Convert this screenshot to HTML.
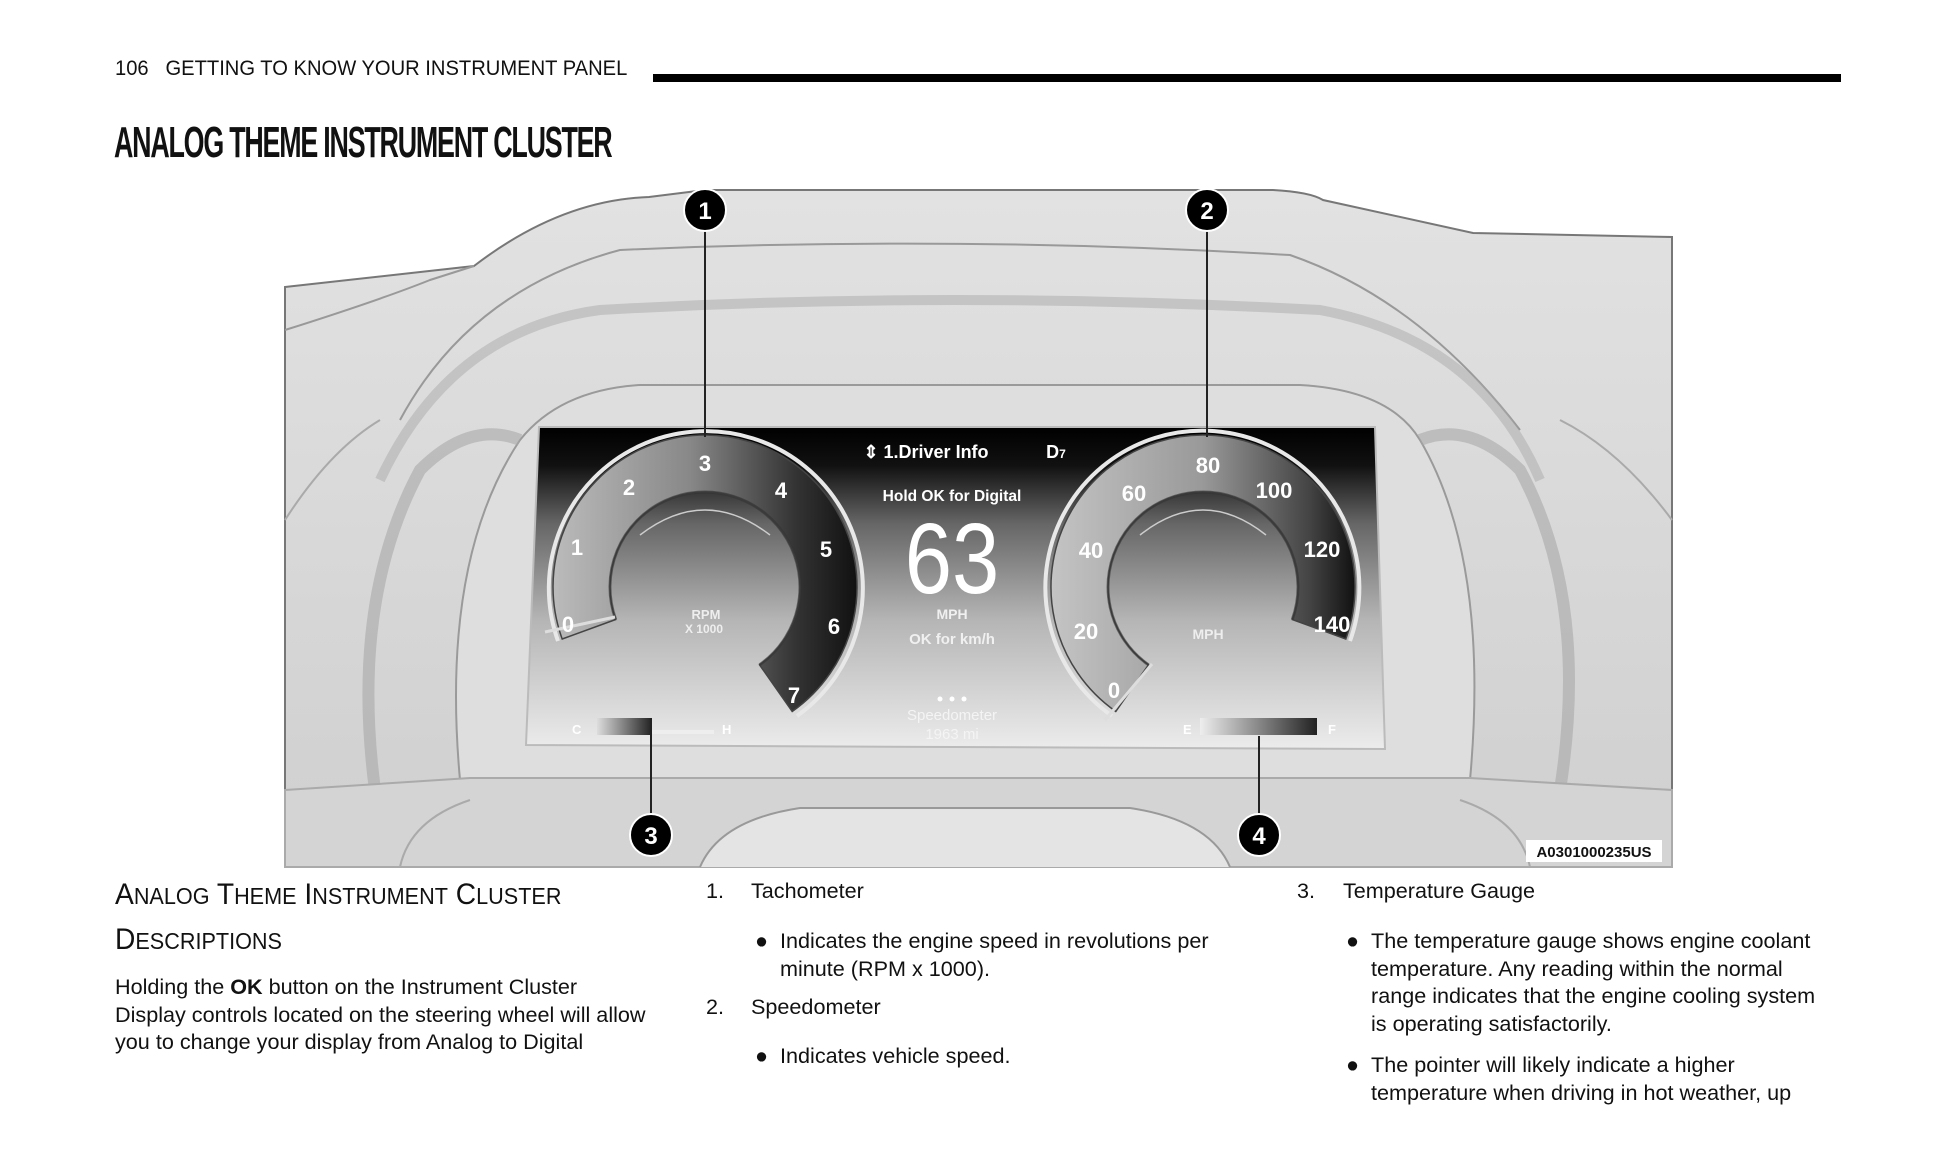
<!DOCTYPE html>
<html><head><meta charset="utf-8"><style>
html,body{margin:0;padding:0;background:#fff;width:1946px;height:1174px;overflow:hidden}
body{position:relative;font-family:"Liberation Sans",sans-serif;color:#111}
.a{position:absolute;white-space:nowrap}
.t{font-size:21.6px;line-height:27.5px}
.sc{transform-origin:0 0}
</style></head><body>
<div class="a sc" style="left:115px;top:57px;font-size:21px;transform:scaleX(0.96)">106&nbsp;&nbsp;&nbsp;GETTING TO KNOW YOUR INSTRUMENT PANEL</div>
<div class="a" style="left:653px;top:74px;width:1188px;height:8px;background:#000"></div>
<div class="a sc" style="left:114px;top:118px;font-size:44px;font-weight:bold;letter-spacing:-2px;transform:scaleX(0.61)">ANALOG THEME INSTRUMENT CLUSTER</div>

<svg class="a" style="left:0;top:0" width="1946" height="1174" viewBox="0 0 1946 1174" font-family="Liberation Sans, sans-serif">
<defs>
<linearGradient id="scr" x1="0" y1="0" x2="0" y2="1">
<stop offset="0" stop-color="#000"/><stop offset="0.12" stop-color="#111"/><stop offset="0.3" stop-color="#666"/><stop offset="0.6" stop-color="#b5b5b5"/><stop offset="1" stop-color="#ececec"/></linearGradient>
<linearGradient id="tb" x1="0" y1="0" x2="1" y2="0">
<stop offset="0" stop-color="#bbb"/><stop offset="0.45" stop-color="#888"/><stop offset="0.8" stop-color="#333"/><stop offset="1" stop-color="#111"/></linearGradient>
<linearGradient id="sb" x1="0" y1="0" x2="1" y2="0">
<stop offset="0" stop-color="#c4c4c4"/><stop offset="0.5" stop-color="#999"/><stop offset="0.85" stop-color="#444"/><stop offset="1" stop-color="#111"/></linearGradient>
<linearGradient id="bar1" x1="0" y1="0" x2="1" y2="0"><stop offset="0" stop-color="#ddd"/><stop offset="1" stop-color="#222"/></linearGradient>
<linearGradient id="bar2" x1="0" y1="0" x2="1" y2="0"><stop offset="0" stop-color="#eee"/><stop offset="1" stop-color="#222"/></linearGradient>
<linearGradient id="dash" x1="0" y1="0" x2="0" y2="1"><stop offset="0" stop-color="#e2e2e2"/><stop offset="1" stop-color="#cfcfcf"/></linearGradient>
</defs>
<rect x="285" y="187" width="1387" height="680" fill="#fff"/>
<path d="M285,287 L474,266 Q560,200 649,197 L705,190 L1273,190 Q1310,192 1323,200 L1473,233 L1672,237 L1672,867 L285,867 Z" fill="url(#dash)" stroke="#777" stroke-width="2"/>
<path d="M285,330 Q380,300 430,280 L474,266" fill="none" stroke="#999" stroke-width="2"/>
<path d="M400,420 Q470,290 620,250 Q950,235 1290,255 Q1420,300 1520,430" fill="none" stroke="#999" stroke-width="2"/>
<path d="M380,480 Q450,330 600,310 Q950,290 1320,310 Q1480,340 1540,480" fill="none" stroke="#aaa" stroke-width="10" opacity="0.5"/>
<path d="M285,520 Q330,450 380,420" fill="none" stroke="#aaa" stroke-width="2"/>
<path d="M1672,520 Q1620,450 1560,420" fill="none" stroke="#aaa" stroke-width="2"/>
<path d="M460,780 Q440,560 520,440 Q560,390 640,385 L1300,385 Q1390,390 1420,440 Q1490,560 1470,780 Z" fill="#dedede" stroke="#9a9a9a" stroke-width="2"/>
<path d="M375,790 Q350,600 420,470 Q470,420 520,440" fill="none" stroke="#a8a8a8" stroke-width="12" opacity="0.6"/>
<path d="M1560,790 Q1590,600 1520,470 Q1470,420 1420,440" fill="none" stroke="#a8a8a8" stroke-width="12" opacity="0.6"/>
<path d="M285,790 L470,778 L1470,778 L1672,790 L1672,867 L285,867 Z" fill="#d4d4d4" stroke="#aaa" stroke-width="2"/>
<path d="M700,867 Q720,820 800,808 L1130,808 Q1210,820 1230,867" fill="#e4e4e4" stroke="#999" stroke-width="2"/>
<path d="M400,867 Q410,820 470,800" fill="none" stroke="#aaa" stroke-width="2"/>
<path d="M1530,867 Q1520,820 1460,800" fill="none" stroke="#aaa" stroke-width="2"/>
<path d="M539,427 L1375,427 L1385,749 L526,745 Z" fill="url(#scr)" stroke="#bbb" stroke-width="2"/>
<!-- tach -->
<path d="M558,641 A157,157 0 1 1 797,716" fill="none" stroke="#e8e8e8" stroke-width="4"/>
<path d="M562.2,639 A152,152 0 1 1 792.2,711.5 L759.5,664.8 A95,95 0 1 0 615.7,619.5 Z" fill="url(#tb)" stroke="#444" stroke-width="1.5"/>
<path d="M615.7,619.5 A95,95 0 1 1 759.5,664.8" fill="none" stroke="#333" stroke-width="3" opacity="0.6"/>
<path d="M640,535 Q705,485 770,535" fill="none" stroke="#ccc" stroke-width="1.5"/>
<line x1="545" y1="632" x2="615" y2="617" stroke="#ddd" stroke-width="3"/>
<g fill="#fff" font-weight="bold" font-size="22" text-anchor="middle">
<text x="568" y="632">0</text><text x="577" y="555">1</text><text x="629" y="495">2</text><text x="705" y="471">3</text><text x="781" y="498">4</text><text x="826" y="557">5</text><text x="834" y="634">6</text><text x="794" y="703">7</text>
</g>
<text x="706" y="619" fill="#eee" font-size="13" font-weight="bold" text-anchor="middle">RPM</text>
<text x="704" y="633" fill="#eee" font-size="12" font-weight="bold" text-anchor="middle">X 1000</text>
<!-- speedo -->
<path d="M1112,716 A157,157 0 1 1 1350,641" fill="none" stroke="#e8e8e8" stroke-width="4"/>
<path d="M1115.8,711.5 A152,152 0 1 1 1345.8,639 L1292.3,619.5 A95,95 0 1 0 1148.5,664.8 Z" fill="url(#sb)" stroke="#444" stroke-width="1.5"/>
<path d="M1148.5,664.8 A95,95 0 1 1 1292.3,619.5" fill="none" stroke="#333" stroke-width="3" opacity="0.6"/>
<path d="M1140,535 Q1203,485 1266,535" fill="none" stroke="#ccc" stroke-width="1.5"/>
<line x1="1105" y1="720" x2="1152" y2="664" stroke="#ddd" stroke-width="3"/>
<g fill="#fff" font-weight="bold" font-size="22" text-anchor="middle">
<text x="1114" y="698">0</text><text x="1086" y="639">20</text><text x="1091" y="558">40</text><text x="1134" y="501">60</text><text x="1208" y="473">80</text><text x="1274" y="498">100</text><text x="1322" y="557">120</text><text x="1332" y="632">140</text>
</g>
<text x="1208" y="639" fill="#eee" font-size="14" font-weight="bold" text-anchor="middle">MPH</text>
<text x="926" y="458" fill="#fff" font-size="18" font-weight="bold" text-anchor="middle">⇕ 1.Driver Info</text>
<text x="1056" y="458" fill="#fff" font-size="18" font-weight="bold" text-anchor="middle">D<tspan font-size="12">7</tspan></text>
<text x="952" y="501" fill="#fff" font-size="15.5" font-weight="bold" text-anchor="middle">Hold OK for Digital</text>
<text x="952" y="593" fill="#fff" font-size="100" text-anchor="middle" transform="translate(952 0) scale(0.85 1) translate(-952 0)">63</text>
<text x="952" y="619" fill="#f0f0f0" font-size="14" font-weight="bold" text-anchor="middle">MPH</text>
<text x="952" y="644" fill="#f0f0f0" font-size="15" font-weight="bold" text-anchor="middle">OK for km/h</text>
<circle cx="940" cy="699" r="2.5" fill="#fff"/><circle cx="952" cy="699" r="2.5" fill="#fff"/><circle cx="964" cy="699" r="2.5" fill="#fff"/>
<text x="952" y="720" fill="#f4f4f4" font-size="15" text-anchor="middle">Speedometer</text>
<text x="952" y="739" fill="#f4f4f4" font-size="15" text-anchor="middle">1963 mi</text>
<text x="572" y="734" fill="#fff" font-size="13" font-weight="bold">C</text>
<rect x="597" y="718" width="55" height="17" fill="url(#bar1)"/>
<rect x="652" y="730" width="62" height="4" fill="#eee"/>
<text x="722" y="734" fill="#fff" font-size="13" font-weight="bold">H</text>
<text x="1183" y="734" fill="#fff" font-size="13" font-weight="bold">E</text>
<rect x="1200" y="718" width="117" height="17" fill="url(#bar2)"/>
<text x="1328" y="734" fill="#fff" font-size="13" font-weight="bold">F</text>
<g stroke="#222" stroke-width="2">
<line x1="705" y1="210" x2="705" y2="437"/><line x1="1207" y1="210" x2="1207" y2="437"/>
<line x1="651" y1="718" x2="651" y2="835"/><line x1="1259" y1="736" x2="1259" y2="835"/>
</g>
<g fill="#000" stroke="#fff" stroke-width="2">
<circle cx="705" cy="210" r="21"/><circle cx="1207" cy="210" r="21"/><circle cx="651" cy="835" r="21"/><circle cx="1259" cy="835" r="21"/>
</g>
<g fill="#fff" font-size="24" font-weight="bold" text-anchor="middle">
<text x="705" y="219">1</text><text x="1207" y="219">2</text><text x="651" y="844">3</text><text x="1259" y="844">4</text>
</g>
<rect x="1526" y="840" width="136" height="22" fill="#fff"/>
<text x="1594" y="857" fill="#111" font-size="15" font-weight="bold" text-anchor="middle">A0301000235US</text>
</svg>

<div class="a sc" style="left:115px;top:873px;font-size:30px;transform:scaleX(0.94);line-height:43px">A<span style="font-size:23px">NALOG</span> T<span style="font-size:23px">HEME</span> I<span style="font-size:23px">NSTRUMENT</span> C<span style="font-size:23px">LUSTER</span><br>D<span style="font-size:23px">ESCRIPTIONS</span></div>
<div class="a t" style="left:115px;top:973px">Holding the <b>OK</b> button on the Instrument Cluster<br>Display controls located on the steering wheel will allow<br>you to change your display from Analog to Digital</div>

<div class="a t" style="left:706px;top:877px">1.</div><div class="a t" style="left:751px;top:877px">Tachometer</div>
<div class="a t" style="left:755px;top:927px">●</div><div class="a t" style="left:780px;top:927px">Indicates the engine speed in revolutions per<br>minute (RPM x 1000).</div>
<div class="a t" style="left:706px;top:993px">2.</div><div class="a t" style="left:751px;top:993px">Speedometer</div>
<div class="a t" style="left:755px;top:1042px">●</div><div class="a t" style="left:780px;top:1042px">Indicates vehicle speed.</div>

<div class="a t" style="left:1297px;top:877px">3.</div><div class="a t" style="left:1343px;top:877px">Temperature Gauge</div>
<div class="a t" style="left:1346px;top:927px">●</div><div class="a t" style="left:1371px;top:927px">The temperature gauge shows engine coolant<br>temperature. Any reading within the normal<br>range indicates that the engine cooling system<br>is operating satisfactorily.</div>
<div class="a t" style="left:1346px;top:1051px">●</div><div class="a t" style="left:1371px;top:1051px">The pointer will likely indicate a higher<br>temperature when driving in hot weather, up</div>
</body></html>
